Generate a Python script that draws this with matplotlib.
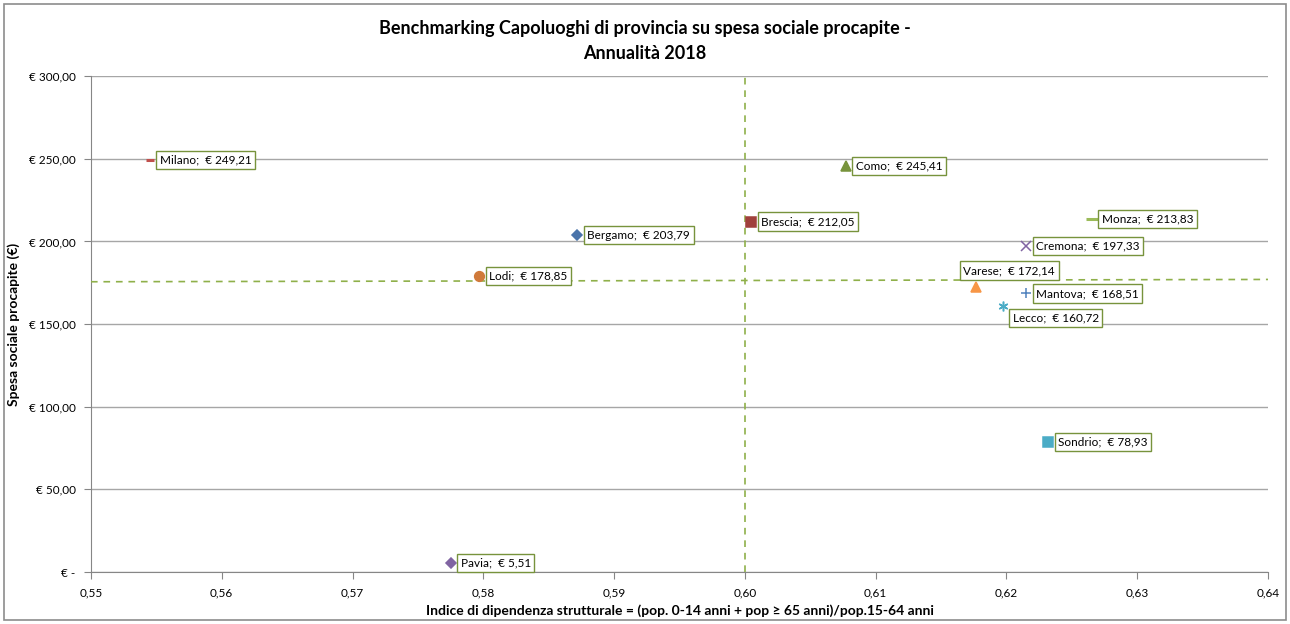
import matplotlib
matplotlib.use("Agg")
import matplotlib.pyplot as plt
from matplotlib.patches import Rectangle
from matplotlib.ticker import FuncFormatter

plt.rcParams['font.family'] = ['Lato', 'DejaVu Sans']

# dati
citta = ['Milano', 'Bergamo', 'Brescia', 'Como', 'Monza', 'Cremona',
         'Varese', 'Mantova', 'Lecco', 'Sondrio', 'Lodi', 'Pavia']
indice = [0.5545, 0.5872, 0.6005, 0.6077, 0.6265, 0.6215,
          0.6177, 0.6215, 0.6197, 0.6232, 0.5797, 0.5775]
spesa = [249.21, 203.79, 212.05, 245.41, 213.83, 197.33,
         172.14, 168.51, 160.72, 78.93, 178.85, 5.51]

# linee di riferimento (medie)
media_x = [0.6, 0.6]
media_x_y = [0, 300]
media_y_x = [0.55, 0.64]
media_y = [175.6, 177.0]

stili = {
    'Milano': ('_', '#C0504D', 6),
    'Bergamo': ('D', '#4A74AA', 5),
    'Brescia': ('s', '#A0403C', 7),
    'Como': ('^', '#77933C', 7),
    'Monza': ('_', '#9BBB59', 8),
    'Cremona': ('x', '#8064A2', 6.5),
    'Varese': ('^', '#F79646', 6.5),
    'Mantova': ('+', '#4F81BD', 7.5),
    'Lecco': ((6, 2, 0), '#4BACC6', 7),
    'Sondrio': ('s', '#4BACC6', 7),
    'Lodi': ('o', '#D07A3A', 7),
    'Pavia': ('D', '#8064A2', 5),
}
offset = {'Varese': (-13, 17), 'Lecco': (10, -12)}

fig = plt.figure(figsize=(12.9, 6.24), dpi=100)
ax = fig.add_axes([0.0705, 0.0833, 0.9125, 0.7947])

fig.patches.append(Rectangle((0.003, 0.006), 0.994, 0.988, transform=fig.transFigure,
                             fill=False, edgecolor='#8C8C8C', linewidth=1.2))

for c, x, y in zip(citta, indice, spesa):
    m, col, s = stili[c]
    lw = 2.2 if m == '_' else 1.1
    ax.plot(x, y, linestyle='none', marker=m, color=col, markersize=s,
            markeredgewidth=lw, zorder=4)
    dx, dy = offset.get(c, (10, 0))
    ax.annotate(f'{c};  € {y:.2f}'.replace('.', ','), (x, y), xytext=(dx, dy),
                textcoords='offset pixels', ha='left', va='center', fontsize=8.5,
                bbox=dict(boxstyle='square,pad=0.3', fc='white', ec='#77933C', lw=1),
                zorder=5)

ax.plot(media_x, media_x_y, linestyle=(0, (4, 3.5)), color='#8FB04A', linewidth=1.2, zorder=3)
ax.plot(media_y_x, media_y, linestyle=(0, (4, 3.5)), color='#8FB04A', linewidth=1.2, zorder=3)

ax.set_xlim(0.55, 0.64)
ax.set_ylim(0, 300)
ax.set_xticks([0.55, 0.56, 0.57, 0.58, 0.59, 0.60, 0.61, 0.62, 0.63, 0.64])
ax.set_yticks([0, 50, 100, 150, 200, 250, 300])
ax.xaxis.set_major_formatter(FuncFormatter(lambda v, p: f'{v:.2f}'.replace('.', ',')))
ax.yaxis.set_major_formatter(FuncFormatter(
    lambda v, p: '€ -' if v == 0 else f'€ {v:.2f}'.replace('.', ',')))
ax.tick_params(labelsize=8.5, color='#868686', length=5, pad=6)
ax.grid(axis='y', color='#A6A6A6', linewidth=1)
ax.set_axisbelow(True)
for s in ['top', 'right']:
    ax.spines[s].set_visible(False)
for s in ['left', 'bottom']:
    ax.spines[s].set_color('#868686')

ax.set_xlabel('Indice di dipendenza strutturale = (pop. 0-14 anni + pop ≥ 65 anni)/pop.15-64 anni',
              fontsize=10, fontweight='bold', labelpad=4)
ax.set_ylabel('Spesa sociale procapite (€)', fontsize=10, fontweight='bold', labelpad=6)
fig.text(0.5, 0.955, 'Benchmarking Capoluoghi di provincia su spesa sociale procapite -',
         ha='center', va='center', fontsize=13, fontweight='bold')
fig.text(0.5, 0.915, 'Annualità 2018', ha='center', va='center', fontsize=13, fontweight='bold')

fig.savefig('out.png', dpi=100)
